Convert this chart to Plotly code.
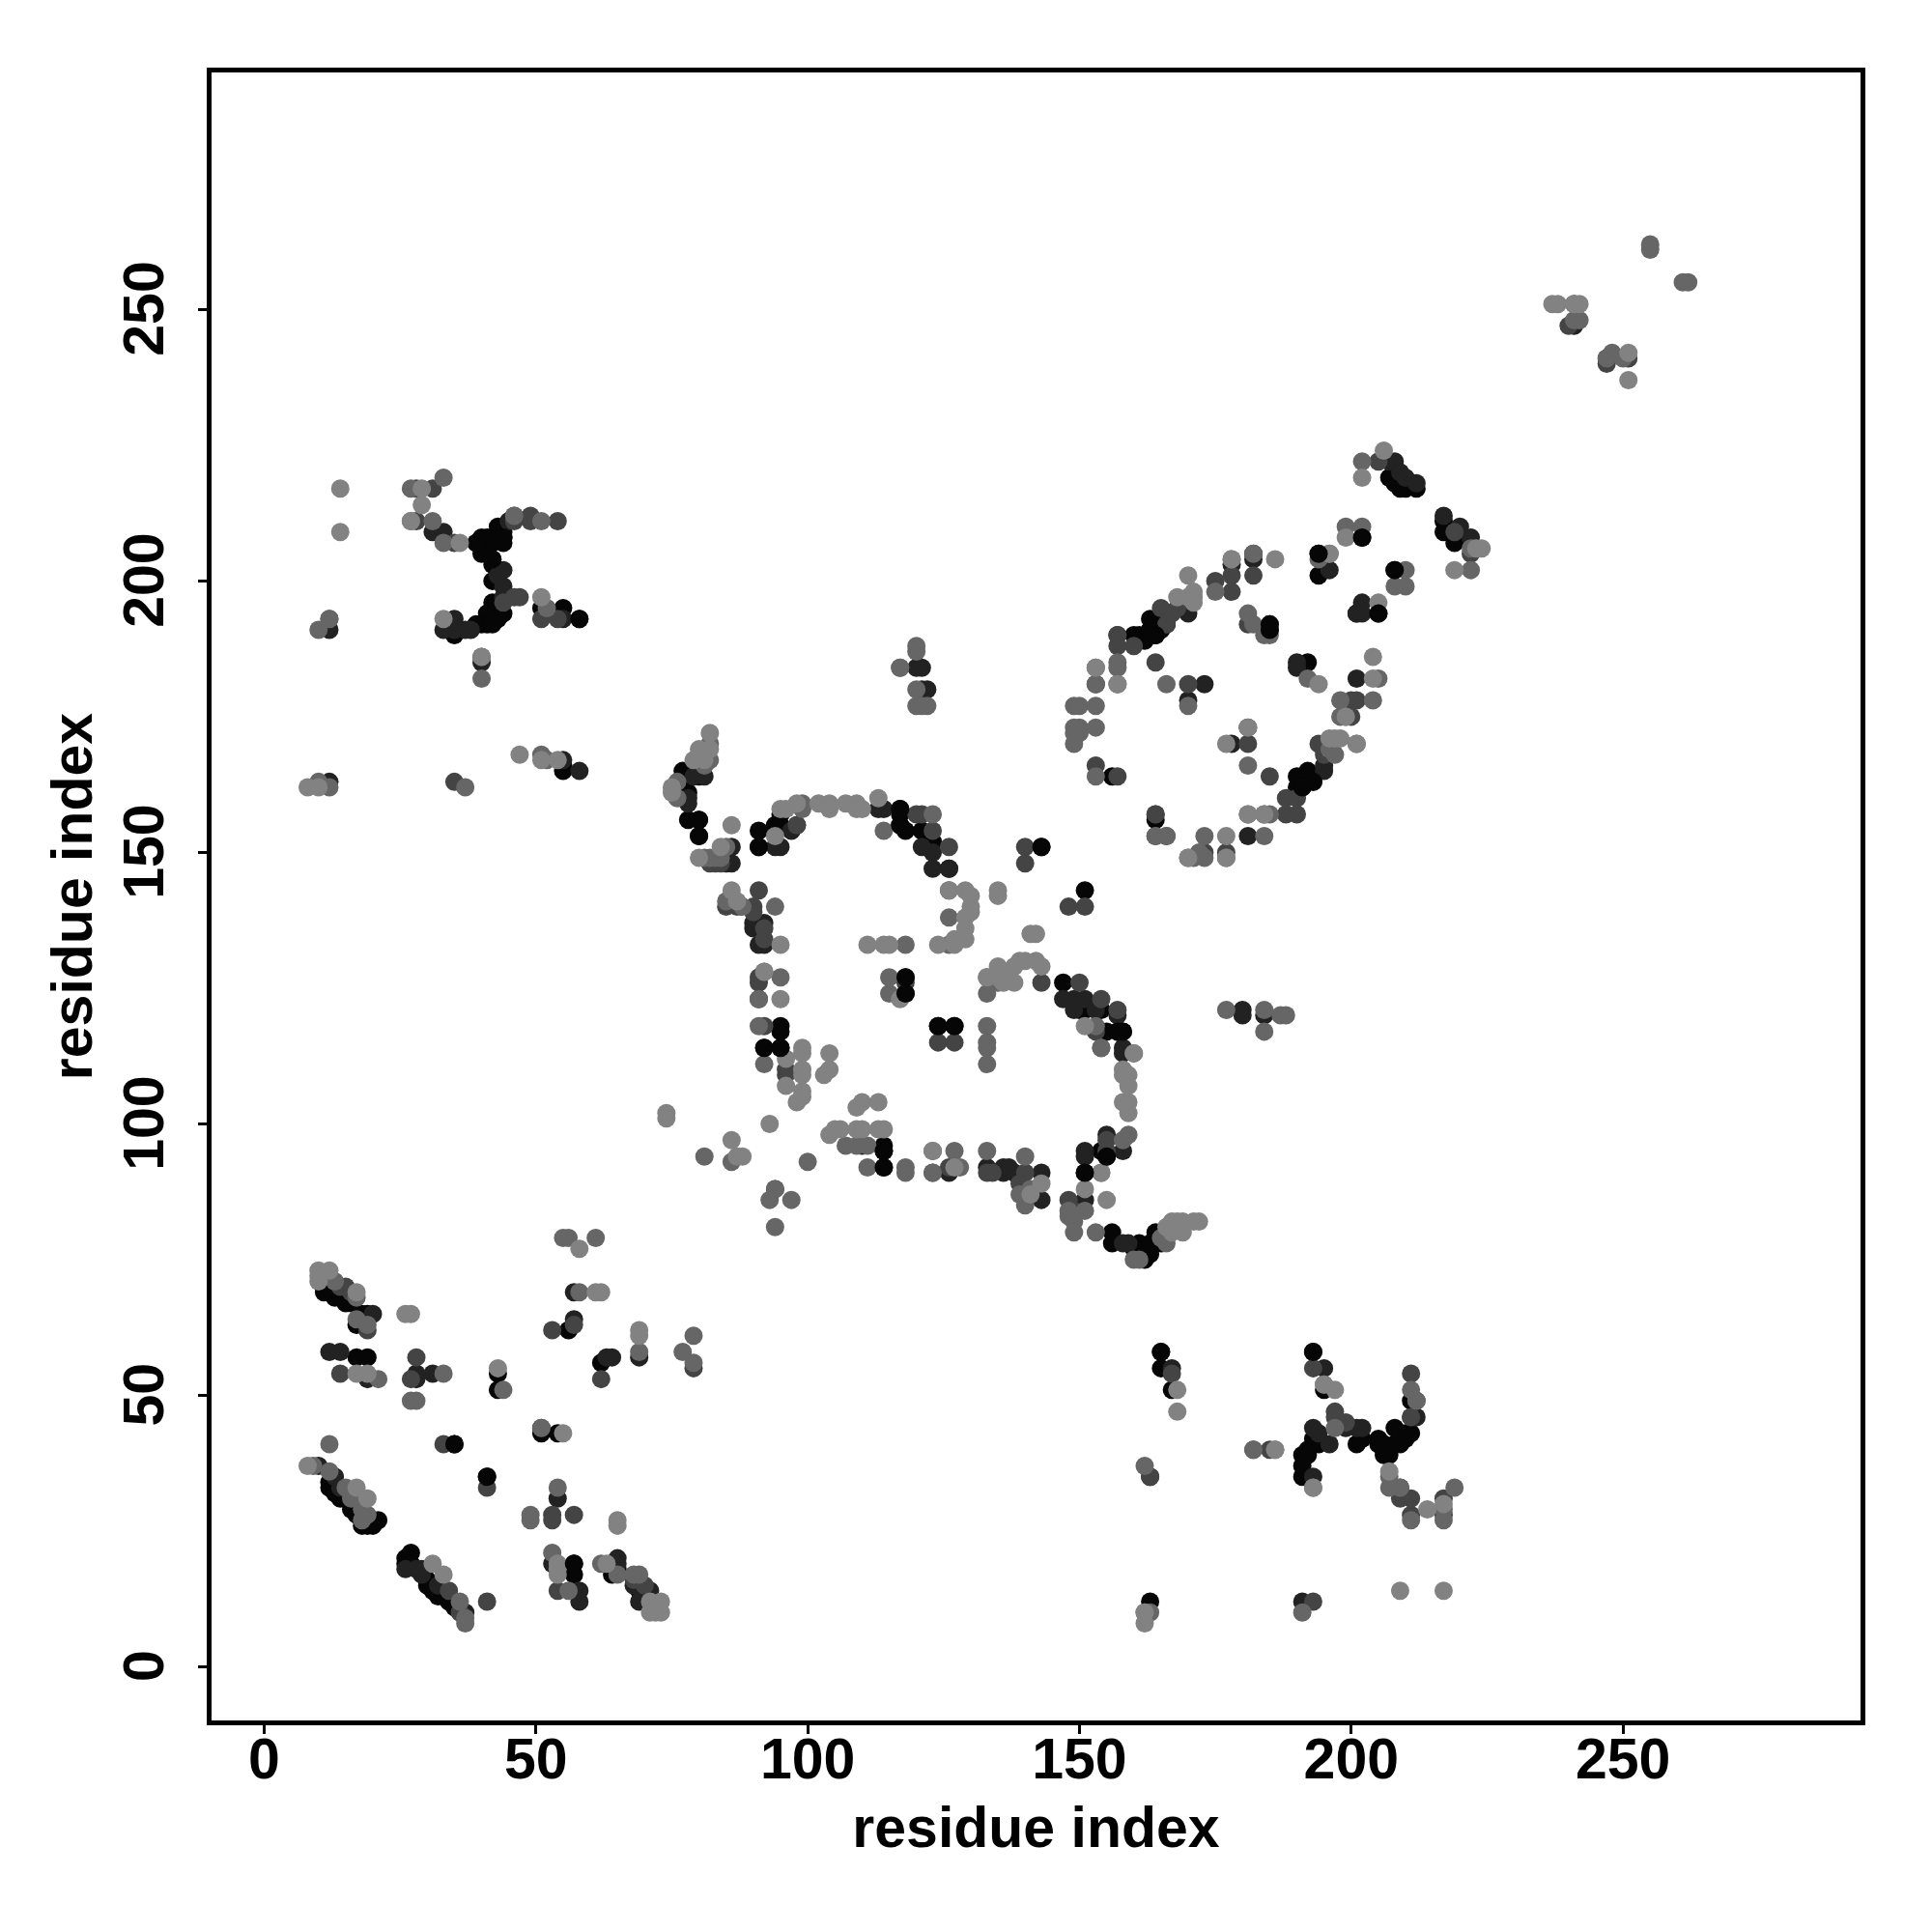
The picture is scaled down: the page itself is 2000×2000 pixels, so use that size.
import plotly.graph_objects as go

tick_values = [0, 50, 100, 150, 200, 250]
axis_label = "residue index"

black_pts = [
(56,62),(43,54),(43,51),(35,41),(41,35),(17,57),(19,57),(19,65),(18,65),(18,64),(17,63),(11,70),(12,69),(13,68),(14,68),(15,67),(16,67),
(12,34),(12,33),(13,32),(14,31),(16,30),(17,29),(17,28),(20,27),(21,27),(18,26),(19,26),(20,26),(57,19),(57,17),(64,17),(65,18),(69,14),(70,13),(70,14),(70,12),
(27,21),(26,20),(26,19),(27,19),(30,15),(30,16),(31,14),(32,13),(33,13),(34,12),(35,11),(62,56),(51,43),(54,43),(11,69),(13,34),(15,31),(16,29),
(80,156),(80,153),(78,156),(77,165),(77,163),(78,161),(77,161),(76,161),(80,164),(79,165),(91,151),(94,155),(95,155),(91,154),(95,157),
(117,158),(117,157),(117,155),(118,154),(121,154),(122,152),(123,152),(126,147),(143,151),(151,143),(92,114),(95,114),(95,117),(95,118),
(114,96),(114,95),(114,92),(124,118),(127,118),(118,127),(118,124),(151,91),(154,95),(155,94),(157,117),(158,117),(154,121),(151,121),(150,121),(147,126),(155,117),
(40,205),(41,207),(42,207),(42,204),(43,209),(44,208),(44,207),(43,210),(41,208),(40,208),(39,207),(42,203),(44,209),(42,200),
(41,194),(42,193),(43,193),(41,192),(40,192),(39,192),(44,194),(43,195),(42,196),(35,190),(36,191),(51,195),(55,195),(55,165),(55,166),
(160,190),(161,190),(162,189),(163,190),(164,190),(163,193),(164,192),(166,192),(165,193),(165,191),(163,191),(190,164),(190,162),(191,162),(193,163),(192,165),(192,164),(191,163),
(185,191),(185,192),(164,156),(156,164),(194,205),(194,201),(202,208),(208,202),(201,194),(205,194),(192,185),(207,219),(209,217),(210,217),(212,217),(208,218),(217,211),(217,209),(218,209),(219,207),
(163,12),(165,55),(167,51),(195,51),(191,35),(191,37),(193,42),(194,41),(192,40),(192,39),(191,39),(194,42),(205,42),(205,41),(206,39),(207,39),(208,41),(208,44),(209,41),(210,42),(211,43),(210,43),(209,43),(206,41),(211,49),(202,42),(201,41),(161,78),(161,76),(162,77),(160,77),(162,75),(163,76),(164,78),(164,80),(165,78),(163,78),(156,80),(156,78),
]
very_dark_pts = [
(57,69),(57,64),(69,57),(64,57),(63,57),(28,54),(28,53),(31,54),(12,58),(14,58),(19,53),(13,35),(10,37),(14,33),(65,20),(65,19),(64,19),(54,31),(53,19),(58,14),(58,12),(68,15),(69,12),(71,14),
(26,18),(29,17),(28,18),(29,18),(32,15),(37,10),(51,44),(20,65),
(78,159),(78,160),(79,164),(81,164),(98,155),(97,154),(95,151),(94,151),(86,151),(86,148),(85,148),(114,158),(113,158),(121,151),(123,150),(123,147),(126,147),(92,137),(90,137),(90,136),(91,133),(92,133),
(151,95),(151,94),(155,98),(158,95),(147,123),(149,123),(149,121),(151,123),(153,121),(157,120),(158,113),(158,114),(136,92),(136,91),(137,92),(138,91),(143,91),(143,86),(151,86),(133,92),(126,91),(110,96),(94,88),
(31,209),(33,209),(46,212),(45,211),(44,199),(44,202),(44,197),(43,201),(37,191),(38,191),(35,193),(35,191),(33,191),(55,193),(58,193),(12,191),(40,185),(12,163),(58,165),(55,167),
(164,190),(157,190),(170,194),(196,202),(190,185),(190,184),(201,182),(201,194),(202,196),(202,194),(173,181),(170,178),(166,192),(181,173),(178,170),(195,165),(195,166),(181,153),(153,181),(164,157),(178,203),(182,205),(182,204),(207,222),(208,222),(209,220),(212,218),(210,219),(217,212),(220,210),(222,208),
(165,58),(193,58),(195,55),(167,55),(211,46),(212,46),(201,44),(202,44),(199,44),(191,12),(163,35),(193,35),(209,33),(196,41),(193,44),(194,43),(120,184),(121,184),(121,180),(122,180),(180,121),(180,120),(184,120),
(158,78),(159,78),(241,247),(247,241),
]
dark_pts = [
(57,63),(53,62),(79,55),(62,53),(28,57),(27,53),(14,54),(14,70),(15,70),(16,69),(19,62),(33,41),(41,33),(53,28),(53,27),(57,28),(54,14),(68,16),(70,15),(34,14),(36,10),(41,12),
(98,155),(84,148),(83,148),(82,148),(85,140),(87,140),(90,140),(90,139),(92,136),(92,134),(91,143),(91,127),(91,126),(91,123),(118,126),(123,91),(126,92),(134,91),(133,91),(140,91),(140,88),(139,89),
(121,157),(120,157),(123,154),(126,151),(126,143),(92,118),(96,109),(96,110),(143,126),(140,148),(140,151),(148,140),(151,140),(148,86),(149,84),(155,97),(154,123),(157,121),(150,126),(153,117),(154,114),(124,115),(127,115),(164,153),(164,157),(155,95),
(31,217),(35,207),(49,212),(49,211),(46,211),(54,211),(51,193),(54,193),(28,217),(28,211),(12,193),(40,186),(35,163),(44,196),(47,197),(46,197),
(157,190),(157,188),(160,188),(153,166),(157,164),(166,192),(170,181),(164,185),(194,170),(195,168),(188,160),(190,160),(188,157),(190,157),(184,157),(166,153),(177,150),(173,150),(181,192),(178,201),(178,198),(175,200),(182,201),(200,178),(201,178),(200,175),(165,195),(167,194),(168,195),(185,164),(181,170),(205,222),(222,205),(219,209),
(211,54),(211,46),(199,45),(197,47),(197,46),(212,49),(211,31),(217,31),(211,28),(217,28),(163,35),(182,40),(185,40),(193,12),(193,55),(167,54),(209,31),
(247,240),(251,241),(240,247),(241,251),
]
mid_pts = [
(55,79),(56,79),(61,79),(58,69),(69,58),(79,61),(77,58),(79,56),(51,44),(44,51),(33,54),(27,49),(28,49),(21,53),(9,37),(12,36),(13,71),(17,68),(17,64),(19,63),(15,33),(18,29),(18,27),(19,28),(16,31),(12,41),(54,33),(49,28),(49,27),(53,21),(62,19),(65,17),(56,14),(69,17),(68,17),(36,12),(37,9),(37,8),
(85,141),(88,140),(94,140),(95,127),(91,118),(92,128),(91,123),(92,111),(111,92),(115,127),(115,124),(133,118),(133,115),(133,114),(133,111),(133,95),(133,127),(140,94),(86,93),(81,94),(100,93),(123,95),(127,95),(118,92),(118,91),(123,91),(128,92),(111,96),(109,96),(107,96),(141,88),(139,87),(140,85),(148,84),(148,83),(149,82),(149,80),(151,84),(153,80),(154,91),(154,114),(158,97),(159,98),(160,113),(153,118),(135,126),(133,124),(126,133),(118,133),(126,138),(123,157),(114,154),(82,170),(82,167),(81,166),(99,159),(99,158),(94,88),(93,86),(97,86),(94,81),(153,173),(149,172),(150,173),(150,172),(153,164),(164,153),(166,153),
(76,160),(76,163),(81,149),(82,149),(83,149),(84,149),(85,151),
(31,211),(33,207),(46,212),(51,211),(52,195),(33,219),(40,182),(10,191),(12,193),(37,162),(10,163),(51,168),(52,167),(27,217),(27,211),(12,162),
(153,184),(157,185),(157,184),(157,181),(149,177),(150,177),(149,173),(149,170),(153,177),(153,181),(170,177),(166,181),(175,198),(178,204),(182,205),(182,192),(181,194),(185,190),(184,190),(192,182),(194,204),(199,210),(202,210),(196,205),(208,199),(210,199),(210,202),(205,182),(198,178),(198,175),(199,175),(201,170),(197,168),(196,169),(181,166),(181,157),(185,157),(184,153),(173,153),(173,149),(172,150),(170,149),(171,149),(177,149),(204,178),(202,222),(222,202),(222,206),
(193,33),(195,52),(182,40),(186,40),(162,37),(162,10),(163,10),(191,10),(211,51),(209,33),(207,33),(207,35),(217,27),(211,27),(219,33),(197,44),(217,29),(212,49),(120,180),(120,177),(122,177),(121,177),(117,184),(177,121),(184,117),(187,120),(188,120),(184,121),(117,184),(120,187),(120,188),
(165,79),(166,78),(160,75),(161,75),
(242,248),(241,248),(248,242),(247,241),(250,241),(255,262),(255,261),(261,255),(262,255),
]
light_pts = [
(58,77),(61,69),(62,69),(69,62),(69,61),(43,55),(55,43),(17,54),(19,54),(26,65),(27,65),(10,73),(12,73),(10,72),(10,71),(17,69),(8,37),(17,33),(19,31),(65,27),(65,26),(54,19),(54,18),(54,17),(63,19),(71,12),(73,12),(71,10),(73,10),(72,10),(33,17),(31,19),
(82,172),(80,169),(82,169),(81,167),(79,167),(75,161),(75,162),(86,155),(94,153),(95,158),(96,158),(98,159),(102,159),(104,159),(104,158),(107,159),(109,159),(109,158),(110,158),(113,160),(126,143),(129,143),(130,142),(130,140),(129,138),(130,139),(129,136),(129,134),(127,134),(135,143),(135,142),(142,135),(141,135),(111,133),(114,133),(115,133),(124,133),(127,133),(86,143),(87,141),(95,133),
(80,149),(84,151),
(92,128),(95,123),(117,123),(99,114),(99,113),(99,110),(99,109),(99,106),(99,105),(98,104),(104,113),(104,110),(103,109),(96,107),(96,112),(110,104),(109,103),(113,104),(74,102),(74,101),(93,100),(86,97),(87,94),(88,94),(104,98),(105,99),(106,99),(109,99),(110,99),(113,99),(114,99),(123,95),(127,92),(141,87),(143,89),(151,88),(155,86),(154,91),(159,104),(158,104),(159,102),(159,107),(158,110),(159,109),(158,109),(160,113),(151,118),(142,130),(140,130),(139,130),(138,129),(136,128),(135,129),(143,129),(138,126),(135,127),(133,127),(136,126),
(14,217),(14,209),(29,217),(29,214),(36,207),(33,193),(51,197),(47,168),(51,167),(54,167),(8,162),(10,162),(40,186),(27,211),
(153,184),(157,181),(170,201),(168,197),(171,198),(170,197),(171,197),(171,196),(178,204),(186,204),(177,170),(185,192),(204,186),(205,196),(204,182),(196,205),(202,219),(199,208),(206,224),(224,206),(223,206),(219,202),(201,170),(198,171),(197,171),(196,171),(181,173),(184,157),(177,153),(170,149),(177,149),(181,157),(199,175),(194,181),
(168,47),(168,51),(197,51),(195,52),(193,33),(207,36),(214,29),(217,30),(209,14),(217,14),(162,8),(162,10),(172,82),(171,82),(169,82),(168,82),(167,82),(169,80),(166,81),(167,80),(186,40),
(237,251),(238,251),(242,251),(241,251),(251,242),(251,237),
]
top_black_pts = [
(35,41),(57,19),(114,95),(114,92),(118,127),(118,124),(124,118),(127,118),(95,114),(92,114),(91,151),(143,151),(151,91),(155,94),(158,117),(157,117),(117,158),(117,155),(80,156),(80,153),(58,193),(44,208),(42,204),(42,192),(185,191),(185,192),(164,190),(163,191),(194,205),(205,194),(202,208),(208,202),(193,163),(191,162),(165,58),(193,58),(41,35),
]

layers = [
    (black_pts, "#060606"), (very_dark_pts, "#222222"), (dark_pts, "#444444"),
    (mid_pts, "#666666"), (light_pts, "#828282"), (top_black_pts, "#060606"),
]

fig = go.Figure()
for pts, colour in layers:
    fig.add_trace(go.Scatter(
        x=[p[0] for p in pts], y=[p[1] for p in pts], mode="markers",
        marker=dict(size=19, color=colour, line=dict(width=0)), showlegend=False,
    ))

font = dict(family="Liberation Sans", size=59, color="black")
font_bold = "<b>%s</b>"
axis_style = dict(
    showgrid=False, zeroline=False, showline=True, linecolor="black", linewidth=5, mirror=True,
    ticks="outside", ticklen=9, tickwidth=3, tickcolor="black", tickmode="array",
    tickvals=tick_values, ticktext=[font_bold % t for t in tick_values], tickfont=font,
)
fig.update_xaxes(range=[-9.68, 293.7], ticklabelstandoff=-25,
                 title=dict(text=font_bold % axis_label, font=font, standoff=19), **axis_style)
fig.update_yaxes(range=[-9.87, 293.65], tickangle=-90, ticklabelstandoff=12, ticklabelshift=8,
                 title=dict(text=font_bold % axis_label, font=font, standoff=3), **axis_style)
fig.update_layout(
    width=2000, height=2000, autosize=False, paper_bgcolor="white", plot_bgcolor="white",
    margin=dict(l=218.5, r=74, t=74.5, b=218.5),
)
fig.write_html("out.html", post_script="document.body.style.margin=0;", config=dict(displayModeBar=False))
